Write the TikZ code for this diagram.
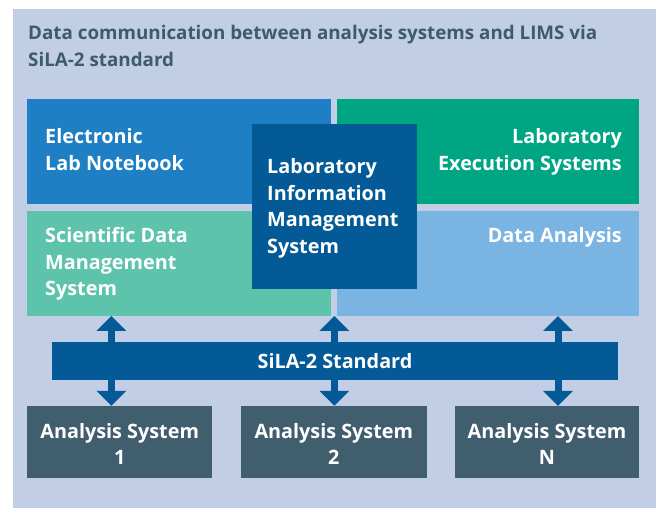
\documentclass[tikz,border=0pt]{standalone}
\usepackage{fontspec}
\setmainfont{Open Sans}
\usetikzlibrary{arrows.meta}
\definecolor{panelbg}{HTML}{C2CEE5}
\definecolor{elnblue}{HTML}{1E7FC4}
\definecolor{lesgreen}{HTML}{00A684}
\definecolor{sdmsgreen}{HTML}{5DC4AB}
\definecolor{dablue}{HTML}{7AB4E3}
\definecolor{limsblue}{HTML}{035A96}
\definecolor{anslate}{HTML}{415E6E}
\definecolor{titlecol}{HTML}{3E5B6C}
\newcommand\boxlines[2]{\begin{tabular}[t]{@{}#1@{}}#2\end{tabular}}
\tikzset{
  area/.style={fill=#1, draw=none, inner sep=0pt, outer sep=0pt},
  boxtext/.style={text=white, inner sep=0pt, font=\bfseries\fontsize{19.8}{26.5}\selectfont},
  titletext/.style={text=titlecol, inner sep=0pt, font=\bfseries\fontsize{18.8}{26.7}\selectfont},
  biarrow/.style={draw=limsblue, line width=7pt,
    {Triangle[width=29pt,length=15pt]}-{Triangle[width=29pt,length=15pt]}},
}
\begin{document}
\begin{tikzpicture}[x=1pt,y=-1pt]
\useasboundingbox (0,0) rectangle (657,508);
% panel
\path[fill=panelbg] (13,9) rectangle (656,508);
% title
\node[titletext, anchor=base west] (title) at (28,40)
  {\boxlines{l}{Data communication between analysis systems and LIMS via\\SiLA-2 standard}};
% top four areas and LIMS
\node[area=elnblue, minimum width=304pt, minimum height=105pt] (elnbox) at (179,151.5) {};
\node[area=lesgreen, minimum width=302pt, minimum height=105pt] (lesbox) at (488,151.5) {};
\node[area=sdmsgreen, minimum width=304pt, minimum height=105pt] (sdmsbox) at (179,263.5) {};
\node[area=dablue, minimum width=302pt, minimum height=105pt] (dabox) at (488,263.5) {};
\node[area=limsblue, minimum width=165pt, minimum height=165pt] (limsbox) at (334.5,206.5) {};
% texts
\node[boxtext, anchor=base west] (elntxt) at (45,144) {\boxlines{l}{Electronic\\Lab Notebook}};
\node[boxtext, anchor=base east] (lestxt) at (622,144) {\boxlines{r}{Laboratory\\Execution Systems}};
\node[boxtext, anchor=base west] (sdmstxt) at (45,242.7) {\boxlines{l}{Scientific Data\\Management\\System}};
\node[boxtext, anchor=base east] (datxt) at (622,242.7) {\boxlines{r}{Data Analysis}};
\node[boxtext, anchor=base west] (limstxt) at (267,174) {\boxlines{l}{Laboratory\\Information\\Management\\System}};
% analysis systems
\node[area=anslate, minimum width=185.5pt, minimum height=72pt] (an1) at (119.7,441.8) {};
\node[area=anslate, minimum width=185.5pt, minimum height=72pt] (an2) at (333.8,441.8) {};
\node[area=anslate, minimum width=184pt, minimum height=72pt] (an3) at (547,441.8) {};
\node[boxtext, anchor=base] (an1txt) at (119.7,438.3) {\boxlines{c}{Analysis System\\1}};
\node[boxtext, anchor=base] (an2txt) at (333.8,438.3) {\boxlines{c}{Analysis System\\2}};
\node[boxtext, anchor=base] (an3txt) at (547,438.3) {\boxlines{c}{Analysis System\\N}};
% arrow columns
\coordinate (c1) at (111.4,0);
\coordinate (c2) at (334.3,0);
\coordinate (c3) at (558,0);
\draw[biarrow] (sdmsbox.south -| c1) -- (an1.north -| c1);
\draw[biarrow] (sdmsbox.south -| c2) -- (an2.north -| c2);
\draw[biarrow] (dabox.south -| c3) -- (an3.north -| c3);
% SiLA bar
\node[area=limsblue, minimum width=566pt, minimum height=38pt] (sila) at (335,361) {};
\node[boxtext, anchor=base] (silatxt) at (335,368) {SiLA-2 Standard};
\end{tikzpicture}
\end{document}
